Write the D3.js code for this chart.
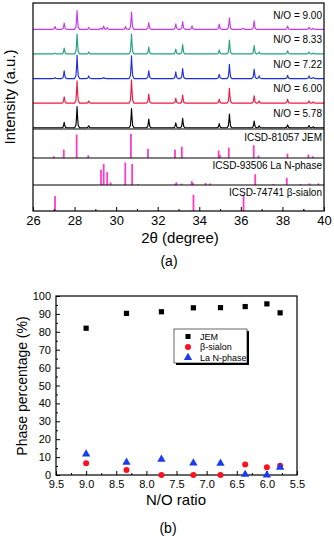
<!DOCTYPE html>
<html>
<head>
<meta charset="utf-8">
<script src="https://cdn.jsdelivr.net/npm/d3@7/dist/d3.min.js"></script>
<style>
  body { margin: 0; background: #fff; }
  svg { display: block; font-family: "Liberation Sans", Arial, sans-serif; }
</style>
</head>
<body>
<div id="chart"></div>
<script>
// ---- (a) XRD patterns: peaks as [2theta, intensity a.u.] ----
const xrd578 = [[27.5,22],[28.12,86],[28.68,8],[30.74,78],[31.57,35],[32.87,20],[33.2,38],[34.96,17],[35.45,56],[36.64,27],[36.88,8],[38.25,12],[39.28,9],[39.48,5]];
const xrd600 = [[27.5,26],[28.12,91],[28.68,9],[30.74,95],[31.57,37],[32.87,20],[33.2,33],[34.96,16],[35.45,60],[36.64,30],[36.88,9],[38.25,16],[39.28,9],[39.48,5]];
const xrd722 = [[27.06,3],[27.5,31],[28.12,95],[28.68,11],[29.4,4],[30.74,92],[31.57,31],[32.87,27],[33.2,41],[34.96,17],[35.45,58],[36.64,38],[36.88,11],[38.25,13],[39.28,11],[39.48,5]];
const xrd833 = [[27.06,3],[27.5,24],[28.12,81],[28.68,8],[30.74,81],[31.57,28],[32.87,20],[33.2,38],[34.96,16],[35.45,56],[36.64,34],[36.88,8],[38.25,13],[39.28,8],[39.48,4]];
const xrd900 = [[27.06,11],[27.5,25],[28.12,76],[28.68,8],[29.27,5],[29.4,13],[29.57,7],[30.45,11],[30.74,70],[31.57,27],[32.87,22],[33.2,32],[33.65,14],[34.96,21],[35.45,47],[36.1,5],[36.64,35],[38.25,13],[39.28,9],[39.48,4]];
const sampleLabels = ["N/O = 5.78", "N/O = 6.00", "N/O = 7.22", "N/O = 8.33", "N/O = 9.00"];
const sampleOffsets = [0, 100, 200, 300, 400];

// reference cards: [2theta, relative intensity]
const refJEM = [[27.0,7],[27.48,35],[28.1,97],[28.66,11],[30.71,100],[31.53,38],[32.83,35],[33.16,47],[34.93,31],[34.99,14],[35.42,43],[36.62,53],[36.85,10],[38.24,18],[39.25,14],[39.46,7]];
const refLaN = [[29.27,68],[29.4,94],[29.57,57],[29.73,12],[30.44,100],[30.77,94],[31.06,3],[32.85,6],[32.9,12],[33.15,6],[33.64,17],[33.7,9],[34.3,9],[34.52,7],[36.69,48],[37.57,4],[38.21,32],[38.87,4],[39.3,7],[39.73,7]];
const refBeta = [[27.06,69],[33.72,75],[36.13,69],[39.04,8]];
const refLabels = ["ICSD-81057 JEM", "ICSD-93506 La N-phase", "ICSD-74741 \u03b2-sialon"];
const twoThetaTicks = [26, 28, 30, 32, 34, 36, 38, 40];

// ---- (b) phase percentages ----
const ratios = [9.00, 8.33, 7.75, 7.22, 6.77, 6.36, 6.00, 5.78];
const jem = [82.0, 90.3, 91.2, 93.4, 93.5, 94.1, 95.6, 90.6];
const betaSialon = [6.5, 2.8, 0, 0, 0, 5.8, 4.3, 5.2];
const laNPhase = [11.7, 7.1, 8.8, 6.7, 6.5, 0.3, 0, 4.3];
const ratioTicks = [9.5, 9.0, 8.5, 8.0, 7.5, 7.0, 6.5, 6.0, 5.5];
const percentTicks = [0, 10, 20, 30, 40, 50, 60, 70, 80, 90, 100];

const W = 334, H = 536;
const svg = d3.select("#chart").append("svg").attr("width", W).attr("height", H);

// ================= panel (a) =================
const aLeft = 33, aRight = 324, aTop = 3, aBottom = 211;
const divs = [129, 158, 185];
const x = d3.scaleLinear().domain([26, 40]).range([aLeft, aRight]);
const y = d3.scaleLinear().domain([-5, 507]).range([divs[0], aTop]);

const patternColors = ["#000000", "#f2173f", "#1c2ee0", "#1fa37a", "#c935ec"];
const patterns = [xrd578, xrd600, xrd722, xrd833, xrd900];

// turn each peak into a narrow spike
function peakPoints(peaks) {
  const pts = [[26, 0]];
  peaks.forEach((p, i) => {
    const prev = i > 0 ? peaks[i - 1][0] : 25;
    const next = i < peaks.length - 1 ? peaks[i + 1][0] : 41;
    const wl = Math.min(0.12, (p[0] - prev) / 2), wr = Math.min(0.12, (next - p[0]) / 2);
    pts.push([p[0] - wl, 0], [p[0] - 0.055, p[1] * 0.12], [p[0] - 0.022, p[1] * 0.55], [p[0], p[1]],
             [p[0] + 0.022, p[1] * 0.55], [p[0] + 0.055, p[1] * 0.12], [p[0] + wr, 0]);
  });
  pts.push([40, 0]);
  return pts;
}

patterns.forEach((pk, i) => {
  const off = sampleOffsets[i];
  const line = d3.line().x(d => x(d[0])).y(d => y(d[1] + off));
  svg.append("path").datum(peakPoints(pk))
    .attr("fill", "none").attr("stroke", patternColors[i]).attr("stroke-width", 1.15)
    .attr("stroke-linejoin", "round").attr("d", line);
  svg.append("text").attr("x", 322).attr("y", y(off + 58)).attr("dy", "0.35em")
    .attr("text-anchor", "end").attr("font-size", 10).text(sampleLabels[i]);
});

// reference stick panels
const refSets = [refJEM, refLaN, refBeta];
const refBands = [[divs[0], divs[1]], [divs[1], divs[2]], [divs[2], aBottom]];
refSets.forEach((set, i) => {
  const [t, b] = refBands[i];
  const ys = d3.scaleLinear().domain([0, 120]).range([b, t]);
  svg.append("g").selectAll("rect").data(set).join("rect")
    .attr("x", d => x(d[0]) - 0.9).attr("width", 1.8)
    .attr("y", d => ys(d[1])).attr("height", d => b - ys(d[1]))
    .attr("fill", "#ff3cc8");
  svg.append("text").attr("x", 322).attr("y", t + (b - t) * 0.29).attr("dy", "0.35em")
    .attr("text-anchor", "end").attr("font-size", 10).text(refLabels[i]);
});

// frame & dividers
svg.append("rect").attr("x", aLeft).attr("y", aTop).attr("width", aRight - aLeft).attr("height", aBottom - aTop)
  .attr("fill", "none").attr("stroke", "#000").attr("stroke-width", 1.2);
divs.forEach(d => svg.append("line").attr("x1", aLeft).attr("x2", aRight).attr("y1", d).attr("y2", d)
  .attr("stroke", "#000").attr("stroke-width", 1.2));

const xAxisA = svg.append("g").attr("transform", `translate(0,${aBottom})`)
  .call(d3.axisBottom(x).tickValues(twoThetaTicks).tickSize(-4).tickPadding(5).tickFormat(d3.format("d")));
xAxisA.select(".domain").remove();
xAxisA.selectAll("text").attr("font-size", 13).attr("font-family", "Liberation Sans, Arial, sans-serif");
svg.append("g").attr("transform", `translate(0,${aBottom})`)
  .call(d3.axisBottom(x).tickValues(d3.range(27, 40, 2)).tickSize(-2).tickFormat(""))
  .select(".domain").remove();

svg.append("text").attr("x", 180).attr("y", 243).attr("text-anchor", "middle").attr("font-size", 15)
  .text("2\u03b8 (degree)");
svg.append("text").attr("transform", "translate(15,97) rotate(-90)").attr("text-anchor", "middle")
  .attr("font-size", 15).text("Intensity (a.u.)");
svg.append("text").attr("x", 169).attr("y", 266).attr("text-anchor", "middle").attr("font-size", 14).text("(a)");

// ================= panel (b) =================
const bLeft = 56, bRight = 297, bTop = 296, bBottom = 475;
const xb = d3.scaleLinear().domain([9.5, 5.5]).range([bLeft, bRight]);
const yb = d3.scaleLinear().domain([0, 100]).range([bBottom, bTop]);

svg.append("rect").attr("x", bLeft).attr("y", bTop).attr("width", bRight - bLeft).attr("height", bBottom - bTop)
  .attr("fill", "none").attr("stroke", "#000").attr("stroke-width", 1.2);

const xAxisB = svg.append("g").attr("transform", `translate(0,${bBottom})`)
  .call(d3.axisBottom(xb).tickValues(ratioTicks).tickSize(-4).tickPadding(5).tickFormat(d3.format(".1f")));
xAxisB.select(".domain").remove();
xAxisB.selectAll("text").attr("font-size", 11).attr("font-family", "Liberation Sans, Arial, sans-serif");
svg.append("g").attr("transform", `translate(0,${bBottom})`)
  .call(d3.axisBottom(xb).tickValues(d3.range(9.25, 5.5, -0.5)).tickSize(-2).tickFormat(""))
  .select(".domain").remove();

const yAxisB = svg.append("g").attr("transform", `translate(${bLeft},0)`)
  .call(d3.axisLeft(yb).tickValues(percentTicks).tickSize(-4).tickPadding(5));
yAxisB.select(".domain").remove();
yAxisB.selectAll("text").attr("font-size", 11).attr("font-family", "Liberation Sans, Arial, sans-serif");
svg.append("g").attr("transform", `translate(${bLeft},0)`)
  .call(d3.axisLeft(yb).tickValues(d3.range(5, 100, 10)).tickSize(-2).tickFormat(""))
  .select(".domain").remove();

const pts = ratios.map((r, i) => ({ r, jem: jem[i], beta: betaSialon[i], la: laNPhase[i] }));
svg.append("g").selectAll("rect").data(pts).join("rect")
  .attr("x", d => xb(d.r) - 2.6).attr("y", d => yb(d.jem) - 2.6)
  .attr("width", 5.2).attr("height", 5.2).attr("fill", "#000");
svg.append("g").selectAll("circle").data(pts).join("circle")
  .attr("cx", d => xb(d.r)).attr("cy", d => yb(d.beta)).attr("r", 3).attr("fill", "#ff1020");
const tri = d3.symbol().type(d3.symbolTriangle).size(30);
svg.append("g").selectAll("path").data(pts).join("path")
  .attr("transform", d => `translate(${xb(d.r)},${yb(d.la)})`).attr("d", tri).attr("fill", "#1a3cf0");

// legend
const lg = svg.append("g").attr("transform", "translate(174,329)");
lg.append("rect").attr("x", 2).attr("y", 2).attr("width", 73).attr("height", 34).attr("fill", "#000");
lg.append("rect").attr("width", 73).attr("height", 34).attr("fill", "#fff").attr("stroke", "#000").attr("stroke-width", 0.6);
lg.append("rect").attr("x", 11.5).attr("y", 5).attr("width", 5).attr("height", 5).attr("fill", "#000");
lg.append("circle").attr("cx", 14).attr("cy", 18).attr("r", 3).attr("fill", "#ff1020");
lg.append("path").attr("transform", "translate(14,28.5)").attr("d", tri).attr("fill", "#1a3cf0");
[["JEM", 7.5], ["\u03b2-sialon", 18], ["La N-phase", 28.5]].forEach(([t, yy]) => {
  lg.append("text").attr("x", 26).attr("y", yy).attr("dy", "0.35em").attr("font-size", 9).text(t);
});

svg.append("text").attr("x", 176).attr("y", 505).attr("text-anchor", "middle").attr("font-size", 15).text("N/O ratio");
svg.append("text").attr("transform", "translate(27,386) rotate(-90)").attr("text-anchor", "middle")
  .attr("font-size", 14).text("Phase percentage (%)");
svg.append("text").attr("x", 168).attr("y", 533).attr("text-anchor", "middle").attr("font-size", 14).text("(b)");
</script>
</body>
</html>
